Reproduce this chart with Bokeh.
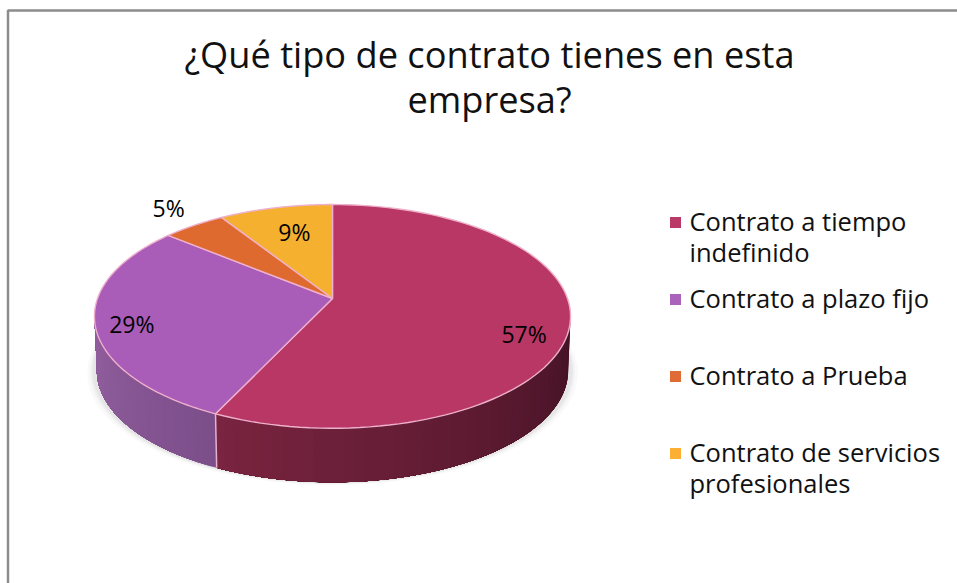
import math
from bokeh.plotting import figure
from bokeh.models import Range1d
from bokeh.core.properties import value
from bokeh.embed import file_html
from bokeh.resources import INLINE

# ---- data ----
categories = ["Contrato a tiempo indefinido", "Contrato a plazo fijo",
              "Contrato a Prueba", "Contrato de servicios profesionales"]
values = [57, 29, 5, 9]
pct_labels = ["57%", "29%", "5%", "9%"]
legend_lines = [["Contrato a tiempo", "indefinido"], ["Contrato a plazo fijo"],
                ["Contrato a Prueba"], ["Contrato de servicios", "profesionales"]]
title_lines = ["¿Qué tipo de contrato tienes en esta", "empresa?"]

# ---- style / layout ----
colors = ["#b93764", "#a95db8", "#df6a30", "#f6b030"]
legend_colors = ["#b93a66", "#ab62ba", "#df6b35", "#fbb034"]
side_colors = {0: ("#7a2440", "#431224"), 1: ("#7b4e8a", "#94609f")}
W, H = 957, 583
FONT = "Open Sans"
CX, CY = 332, 298
SX, SY, K = 235, 109, 0.16
DEPTH = 54
LABEL_R = 0.75
label_offset = [(15, 17), (-24, 7), (-57, -34), (6, 4)]
LEG_X, LEG_SW = 689, 675
legend_y = [220, 297, 374, 451]
LEG_DY = 31


def project(theta, r=1.0, dy=0.0, shrink=1.0):
    u, v = r * math.sin(theta), r * math.cos(theta)
    w = 1 + K * v
    return CX + SX * shrink * u / w, CY - SY * v / w + dy


def arc(a0, a1, n, **kw):
    pts = [project(a0 + (a1 - a0) * i / n, **kw) for i in range(n + 1)]
    return [p[0] for p in pts], [p[1] for p in pts]


def mix(c0, c1, t):
    a = [int(c0[i:i + 2], 16) for i in (1, 3, 5)]
    b = [int(c1[i:i + 2], 16) for i in (1, 3, 5)]
    return "#%02x%02x%02x" % tuple(round(x + (y - x) * t) for x, y in zip(a, b))


total = sum(values)
edges = [0.0]
for val in values:
    edges.append(edges[-1] + 2 * math.pi * val / total)

p = figure(width=W, height=H, x_range=Range1d(0, W), y_range=Range1d(H, 0),
           output_backend="svg", toolbar_location=None, min_border=0,
           background_fill_color="white", border_fill_color="white")
p.axis.visible = False
p.grid.visible = False
p.outline_line_color = None

# frame: left and top rules only
p.line([7.5, 7.5, W], [H, 10, 10], line_color="#8c8c8c", line_width=2.5)

# soft shadow beneath the disc
for grow, alpha in ((7, 0.05), (4, 0.07), (2, 0.09)):
    xs, ys = arc(0, 2 * math.pi, 120, dy=DEPTH + grow * 0.4, shrink=1 + grow / SX)
    p.patch(xs, ys, fill_color="#808080", fill_alpha=alpha, line_color=None)

# side wall: shaded bands, each painted over the rest of its slice
vis0 = math.acos(-K)
vis1 = 2 * math.pi - vis0
sx, sy, sc = [], [], []
for idx, (c_from, c_to) in side_colors.items():
    lo, hi = max(edges[idx], vis0), min(edges[idx + 1], vis1)
    n = 50
    for i in range(n):
        t = (i + 0.5) / n
        a = lo + (hi - lo) * i / n
        col = mix(c_from, c_to, 1 - t) if idx == 0 else mix(c_from, c_to, t)
        tx, ty = arc(a, hi, 60)
        bx, by = arc(hi, a, 60, dy=DEPTH, shrink=0.99)
        sx.append(tx + bx)
        sy.append(ty + by)
        sc.append(col)
p.patches(sx, sy, fill_color=sc, line_color=None)

# seam between the two visible side slices
sx0, sy0 = project(edges[1])
sx1, sy1 = project(edges[1], dy=DEPTH, shrink=0.99)
p.line([sx0, sx1], [sy0, sy1], line_color="#e6b0d0", line_width=1.5)

# top face
top_x, top_y = [], []
for i in range(len(values)):
    xs, ys = arc(edges[i], edges[i + 1], 100)
    top_x.append([CX] + xs)
    top_y.append([CY] + ys)
p.patches(top_x, top_y, fill_color=colors, line_color="#eeb0cc", line_width=1.4)

# percent labels
lx, ly = [], []
for i in range(len(values)):
    mid = (edges[i] + edges[i + 1]) / 2
    x, y = project(mid, r=LABEL_R)
    lx.append(x + label_offset[i][0])
    ly.append(y + label_offset[i][1])
p.text(lx, ly, text=pct_labels, text_font=value(FONT), text_font_size="23px",
       text_color="black", text_align="center", text_baseline="middle")

# title
p.text([489, 489], [53, 98], text=title_lines, text_font=value(FONT),
       text_font_size="36.2px", text_color="#111111", text_align="center",
       text_baseline="middle")

# legend
p.rect([LEG_SW, LEG_SW, LEG_SW, LEG_SW], [y + 2 for y in legend_y], width=11, height=11,
       fill_color=legend_colors, line_color=None)
tx, ty, tt = [], [], []
for y, lines in zip(legend_y, legend_lines):
    for j, line in enumerate(lines):
        tx.append(LEG_X)
        ty.append(y + j * LEG_DY)
        tt.append(line)
p.text(tx, ty, text=tt, text_font=value(FONT), text_font_size="25.5px",
       text_color="#111111", text_align="left", text_baseline="middle")

open("out.html", "w").write(file_html(p, INLINE))
